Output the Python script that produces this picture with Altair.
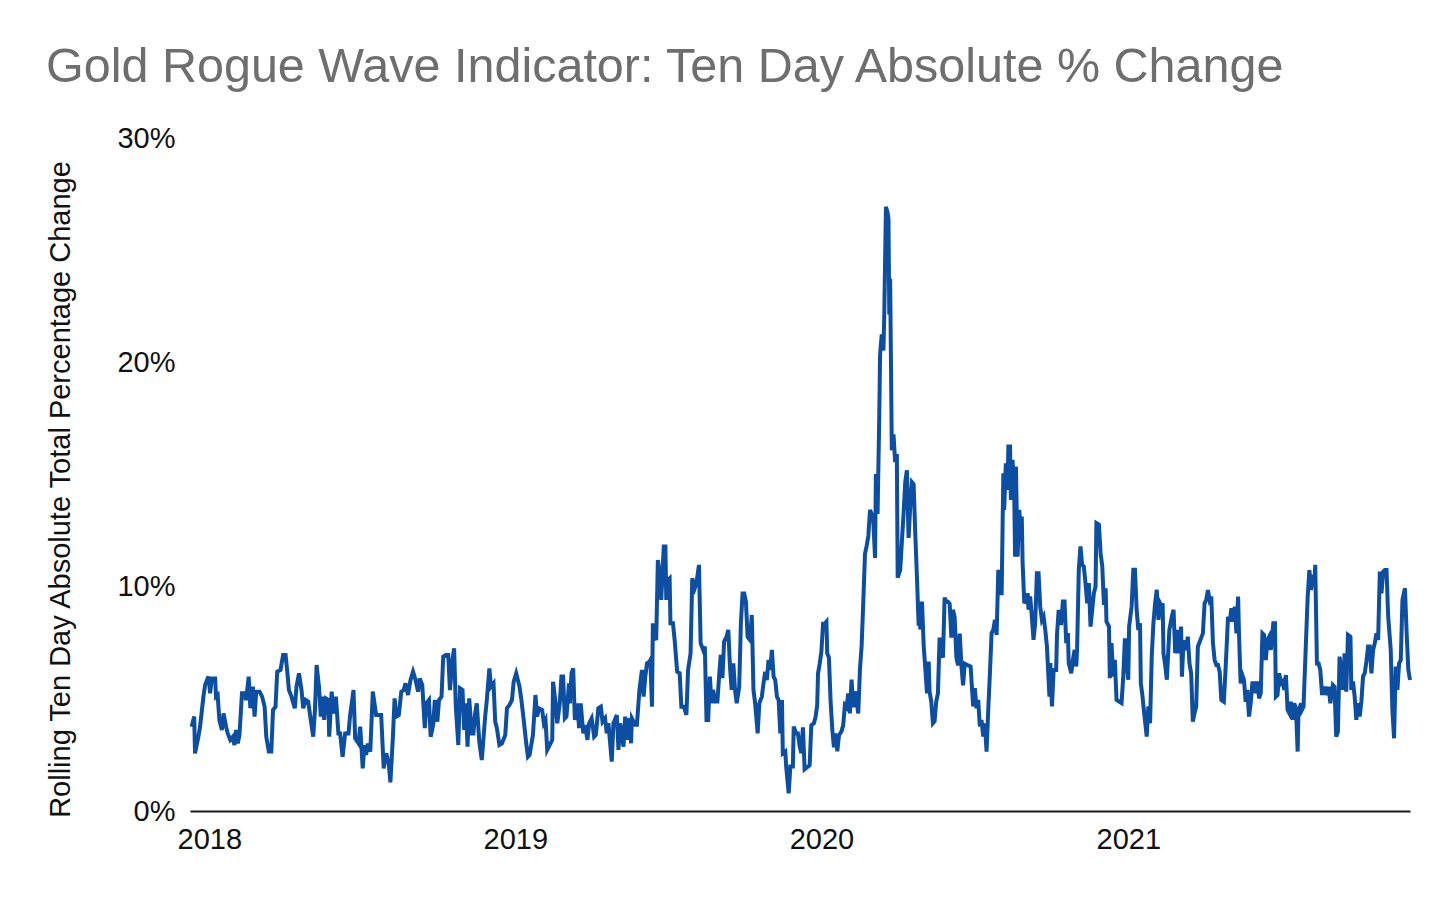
import altair as alt
import pandas as pd

TITLE = "Gold Rogue Wave Indicator: Ten Day Absolute % Change"
Y_TITLE = "Rolling Ten Day Absolute Total Percentage Change"
YEAR_TICKS = [2018, 2019, 2020, 2021]
PCT_TICKS = [0, 10, 20, 30]
START = "2018-01-01"

# days since 2018-01-01
days_2018 = [-21, -18, -17, -13, -11, -7, -5, -1, 1, 3, 7, 8, 10, 12, 15, 17, 20, 22, 25, 28, 30, 32, 34, 36, 39, 42, 44, 47, 49, 52, 54, 56, 60, 63, 66, 68, 71, 74, 76, 79, 81, 85, 88, 91, 93, 95, 98, 102, 104, 107, 110, 112, 115, 118, 121, 124, 126, 128, 131, 133, 135, 137, 139, 142, 143, 146, 148, 151, 154, 156, 159, 162, 166, 168, 172, 174, 178, 180, 183, 185, 187, 189, 192, 195, 199, 205, 208, 211, 214,
             216, 219, 221, 223, 226, 229, 232, 234, 237, 240, 243, 246, 249, 251, 254, 257, 259, 262, 264, 267, 269, 272, 274, 277, 279, 282, 285, 287, 290, 292, 294, 297, 299, 302, 304, 306, 308, 310, 313, 315, 317, 319, 322, 325, 329, 331, 334, 336, 339, 341, 343, 346, 349, 353, 355, 358, 361, 363]
pct_2018 = [3.76, 4.21, 2.57, 3.31, 3.76, 5.10, 5.62, 5.99, 5.25, 5.91, 5.91, 5.10, 5.17, 4.06, 3.61, 4.35, 3.76, 3.46, 3.17, 3.31, 2.94, 3.61, 3.01, 3.39, 5.25, 5.25, 4.95, 5.99, 4.58, 5.54, 4.21, 5.32, 5.32, 5.10, 4.65, 3.31, 2.65, 2.65, 4.50, 4.65, 6.21, 6.29, 6.95, 6.95, 6.21, 5.39, 5.10, 4.58, 5.54, 6.14, 5.39, 4.58, 4.95, 4.87, 4.06, 3.31, 4.50, 6.51, 5.47, 4.21, 5.10, 4.06, 5.02, 4.95, 3.31, 5.32, 4.35, 5.10, 3.46, 3.46, 2.42, 3.46, 3.46, 4.28, 5.39, 3.24, 3.01, 3.76, 1.90, 2.94, 2.50, 3.01, 2.65, 5.32, 4.28, 4.28, 1.90, 2.57, 2.13,
            1.28, 3.31, 5.02, 4.21, 4.28, 5.32, 5.39, 5.69, 5.17, 5.84, 6.21, 5.84, 5.32, 5.91, 5.62, 3.69, 4.80, 4.95, 3.31, 3.83, 4.95, 3.98, 4.95, 5.10, 6.88, 6.95, 6.95, 5.39, 6.73, 7.25, 4.65, 2.94, 5.47, 5.39, 3.61, 4.80, 2.87, 5.02, 3.46, 3.46, 4.35, 4.80, 3.09, 2.27, 4.21, 4.95, 6.36, 5.54, 5.69, 3.98, 3.69, 2.94, 3.01, 3.39, 4.58, 4.73, 4.95, 5.76]

days_2019 = [366, 370, 372, 375, 378, 380, 382, 386, 389, 391, 393, 397, 399, 401, 403, 406, 409, 410, 413, 415, 418, 420, 422, 424, 426, 429, 430, 432, 434, 436, 439, 441, 443, 446, 448, 451, 453, 456, 459, 461, 464,
             467, 469, 472, 474, 476, 480, 482, 486, 488, 490, 494, 496, 498, 501, 503, 504, 508, 510, 513, 516, 518, 520, 522, 525, 526, 528, 529, 531, 533, 535, 537, 539, 542, 544, 545, 547, 549, 550, 553, 555, 558, 561, 563, 566, 569, 571, 574, 576, 579, 581, 584, 586, 589, 591, 593, 595, 597, 599, 601, 603, 606, 608, 610, 612, 614, 617, 619, 621, 623, 625, 627, 629, 632, 634, 636, 638, 640, 642, 645, 647, 649, 651, 654, 656, 659, 661, 663, 665, 667, 669, 671, 673, 675, 677, 679, 681, 683, 684, 687, 688, 691, 693, 696, 697, 700, 702]
pct_2019 = [6.14, 5.54, 5.02, 4.06, 3.01, 2.42, 2.50, 3.39, 5.17, 4.21, 4.58, 4.50, 3.91, 4.06, 2.72, 2.94, 3.17, 5.76, 4.80, 3.91, 4.80, 5.99, 5.99, 4.13, 4.21, 5.69, 4.80, 6.14, 6.36, 4.06, 4.80, 3.69, 4.80, 3.46, 3.83, 3.17, 3.91, 4.13, 3.31, 3.39, 4.58,
            4.65, 3.98, 4.13, 3.46, 3.91, 2.20, 3.91, 4.28, 2.72, 3.91, 2.87, 4.21, 3.17, 4.13, 3.02, 4.13, 3.84, 3.84, 5.40, 6.29, 5.10, 5.99, 6.58, 6.66, 6.73, 4.65, 8.37, 7.77, 7.62, 11.19, 10.60, 9.41, 11.79, 11.79, 9.41, 10.30, 10.37, 8.37, 8.37, 7.62, 6.21, 6.14, 4.65, 4.65, 4.28, 6.29, 7.03, 10.37, 9.93, 10.15, 10.97, 7.48, 7.18, 7.33, 4.06, 4.06, 5.99, 4.80, 5.40, 4.88, 4.88, 5.99, 6.96, 5.92, 7.55, 7.77, 8.07, 6.44, 5.40, 6.58, 5.40, 4.80, 5.54, 8.37, 9.70, 9.70, 9.33, 7.77, 7.62, 8.74, 5.40, 4.80, 3.46, 4.80, 5.10, 5.69, 6.21, 5.84, 6.73, 6.29, 7.18, 5.99, 5.84, 5.10, 4.95, 3.46, 4.95, 2.57, 2.65, 1.98, 0.79, 1.98, 1.98, 3.76, 3.46, 3.46]

days_2020 = [704, 706, 708, 710, 713, 716, 718, 721, 723, 725, 726, 728, 730, 732, 734, 736, 737, 739, 741, 743, 745, 747, 749, 751, 754, 756, 758, 760, 762, 764, 766, 768, 770, 772, 774, 776, 778, 780, 782, 784, 786, 788, 790, 792, 794, 795, 797, 799, 800, 802, 804, 805, 807, 809, 810, 811, 812, 813, 814, 816, 818, 820, 821, 824, 826, 828, 830, 832, 834, 836, 838, 840, 842, 844, 846, 847, 848, 850, 852, 854, 856, 858, 859, 861, 863, 865, 867, 869, 871, 873, 875, 877, 879, 881, 883, 885, 887, 889, 891, 893, 895, 897, 899, 901, 905,
             908, 911, 913, 915, 917, 919, 921, 923, 925, 927, 929, 931, 933, 935, 937, 939, 941, 943, 945, 947, 948, 950, 952, 953, 955, 956, 958, 960, 961, 962, 964, 966, 968, 969, 970, 972, 974, 976, 977, 979, 981, 983, 985, 987, 989, 991, 993, 995, 997, 999, 1002, 1003, 1005, 1007, 1010, 1011, 1013, 1014, 1016, 1018, 1020, 1022, 1024, 1025, 1028, 1030, 1032, 1034, 1035, 1037, 1039, 1041, 1043, 1045, 1047, 1049, 1051, 1053, 1055, 1057, 1058, 1061, 1063, 1065, 1067, 1069, 1070, 1073, 1074, 1076, 1078, 1080, 1082, 1085, 1088, 1090, 1092, 1094]
pct_2020 = [2.90, 2.58, 3.73, 1.86, 1.95, 2.04, 3.82, 3.91, 4.18, 4.71, 6.13, 6.57, 7.11, 8.35, 8.35, 8.44, 7.02, 6.84, 4.89, 3.64, 2.84, 3.46, 2.66, 3.38, 3.55, 3.82, 4.71, 4.62, 5.24, 4.35, 5.86, 4.62, 5.33, 4.89, 4.35, 6.31, 7.37, 9.33, 11.46, 11.82, 12.26, 13.42, 13.24, 12.88, 11.28, 15.02, 13.24, 17.51, 20.35, 21.24, 20.53, 22.13, 26.93, 26.66, 26.39, 22.13, 23.73, 19.99, 16.08, 16.79, 15.55, 15.91, 10.40, 10.75, 12.00, 13.24, 14.66, 15.19, 12.17, 13.60, 14.66, 14.57, 12.35, 10.40, 8.26, 9.33, 8.09, 9.33, 7.37, 6.31, 5.24, 6.66, 5.33, 4.89, 3.91, 4.00, 4.89, 5.24, 7.73, 7.02, 6.84, 9.51, 9.33, 9.33, 9.24, 7.73, 8.97, 8.62, 6.84, 6.49, 7.91, 6.49, 5.60, 6.57, 6.49,
            6.44, 4.66, 5.47, 4.58, 4.95, 3.77, 4.06, 3.32, 3.91, 2.65, 4.51, 6.14, 7.93, 8.07, 8.52, 7.85, 10.75, 9.71, 9.71, 15.06, 13.42, 15.50, 14.32, 16.25, 16.25, 13.87, 15.65, 14.17, 11.34, 15.36, 11.34, 13.42, 12.38, 13.13, 11.05, 9.26, 9.41, 9.71, 8.97, 9.56, 8.67, 7.63, 8.37, 10.60, 10.60, 9.11, 8.52, 8.67, 8.07, 7.33, 5.10, 6.59, 4.66, 6.29, 6.29, 7.85, 8.97, 8.37, 8.37, 9.34, 9.34, 7.48, 7.93, 6.59, 6.14, 6.74, 7.18, 6.44, 7.26, 10.75, 11.79, 10.97, 10.90, 10.16, 9.26, 10.16, 8.22, 8.97, 9.71, 10.01, 12.83, 12.76, 11.49, 10.90, 9.19, 9.93, 8.45, 8.22, 5.92, 7.48, 5.99, 6.74, 4.95, 4.88, 4.81, 5.99, 7.70, 6.59]

days_2021 = [1096, 1097, 1100, 1102, 1104, 1106, 1108, 1110, 1111, 1113, 1115, 1118, 1120, 1122, 1124, 1126, 1128, 1130, 1132, 1134, 1136, 1137, 1138, 1140, 1142, 1145, 1148, 1150, 1152, 1154, 1156,
             1159, 1160, 1162, 1164, 1166, 1167, 1169, 1171, 1173, 1175, 1177, 1179, 1182, 1185, 1187, 1189, 1191, 1193, 1195, 1197, 1199, 1201, 1203, 1205, 1207, 1210, 1212, 1215, 1217, 1219, 1221, 1223, 1225, 1227, 1228, 1230, 1232, 1234, 1236, 1238, 1240, 1242, 1244, 1246, 1248, 1250, 1252, 1254, 1256, 1258, 1260, 1262, 1264, 1266, 1269, 1271, 1272, 1274, 1276, 1278, 1280, 1282, 1284, 1286, 1288, 1290, 1292, 1294, 1296, 1298, 1299, 1302, 1303, 1305, 1308, 1310, 1312, 1314, 1316, 1318, 1319, 1321, 1323, 1325, 1327, 1329, 1331, 1333, 1335, 1337, 1340, 1342, 1344, 1346, 1348, 1350, 1352, 1354, 1356, 1358, 1361, 1362, 1364, 1366, 1368, 1370, 1372, 1374, 1376, 1378, 1380, 1382, 1384, 1386, 1388, 1390, 1392, 1394, 1396, 1398, 1400, 1402, 1404, 1406, 1409, 1411, 1413, 1415, 1417, 1419, 1421, 1423, 1426, 1428, 1430, 1432]
pct_2021 = [5.85, 8.22, 9.11, 10.75, 10.75, 8.97, 8.07, 8.37, 5.70, 5.10, 4.36, 3.32, 4.66, 3.91, 6.89, 8.37, 9.26, 9.86, 8.52, 9.26, 9.11, 9.26, 7.03, 6.51, 5.85, 8.07, 8.67, 8.97, 7.03, 8.07, 7.03,
            8.22, 5.99, 7.62, 7.18, 7.48, 7.77, 6.58, 6.14, 3.98, 4.36, 4.65, 7.33, 7.62, 7.92, 9.26, 9.41, 9.85, 9.41, 9.56, 7.48, 6.73, 6.51, 6.51, 6.21, 4.95, 4.87, 6.29, 8.66, 8.44, 9.04, 8.44, 9.11, 7.92, 9.56, 7.99, 5.69, 6.06, 5.84, 4.87, 5.40, 4.21, 4.80, 5.69, 5.69, 5.25, 5.77, 5.02, 5.25, 7.92, 7.85, 6.73, 7.62, 7.77, 7.18, 8.37, 8.37, 5.10, 5.17, 6.14, 5.69, 5.77, 5.40, 6.06, 4.50, 4.36, 4.87, 4.06, 4.80, 4.58, 2.65, 4.43, 4.80, 4.50, 4.65, 7.62, 9.56, 10.74, 9.85, 10.52, 10.22, 10.97, 6.58, 6.58, 6.29, 5.25, 5.25, 5.54, 5.17, 5.54, 4.80, 5.62, 5.54, 3.31, 3.54, 6.88, 6.29, 5.40, 7.03, 5.32, 7.85, 7.77, 5.40, 5.77, 5.10, 4.06, 4.80, 4.21, 4.87, 5.99, 6.14, 6.66, 7.33, 7.33, 6.14, 7.18, 7.48, 7.92, 7.62, 10.67, 9.70, 10.67, 10.74, 10.74, 8.66, 7.18, 4.50, 3.24, 6.44, 5.40, 6.58, 6.73, 9.41, 9.93, 7.92, 6.29, 5.84]

days = days_2018 + days_2019 + days_2020 + days_2021
pct = pct_2018 + pct_2019 + pct_2020 + pct_2021

df = pd.DataFrame({
    "date": pd.Timestamp(START) + pd.to_timedelta(days, unit="D"),
    "pct": pct,
})

FONT = "Liberation Sans"

chart = alt.Chart(df).mark_line(color="#0b4ea2", strokeWidth=4).encode(
    x=alt.X(
        "date:T",
        scale=alt.Scale(domain=[alt.DateTime(year=2017, month=12, date=9),
                                alt.DateTime(year=2021, month=12, date=3)]),
        axis=alt.Axis(
            values=[alt.DateTime(year=y, month=1, date=1) for y in YEAR_TICKS],
            format="%Y", title=None, grid=False, ticks=False,
            domainColor="#1a1a1a", domainWidth=2,
            labelFontSize=29, labelColor="#111111", labelFont=FONT,
            labelPadding=14, labelFlush=False,
        ),
    ),
    y=alt.Y(
        "pct:Q",
        scale=alt.Scale(domain=[0, 30], nice=False),
        axis=alt.Axis(
            values=PCT_TICKS, labelExpr="datum.value + '%'",
            grid=False, ticks=False, domain=False,
            labelFontSize=29, labelColor="#111111", labelFont=FONT,
            labelPadding=15,
            title=Y_TITLE, titleFontSize=29, titleFontWeight="normal",
            titleFont=FONT, titleColor="#111111",
            titleAngle=270, titleX=-121, titleY=351,
            titleAlign="center", titleBaseline="alphabetic",
        ),
    ),
).properties(
    width=1220,
    height=673,
    autosize="none",
    padding={"left": 182, "top": 130, "right": 38, "bottom": 81},
    title=alt.TitleParams(
        TITLE, anchor="start", fontSize=48.5, color="#6e6e6e", font=FONT,
        fontWeight="normal", baseline="alphabetic", offset=40, dy=46,
    ),
).configure_view(stroke=None)

chart.save("out.html", embed_options={"renderer": "svg", "actions": False})
